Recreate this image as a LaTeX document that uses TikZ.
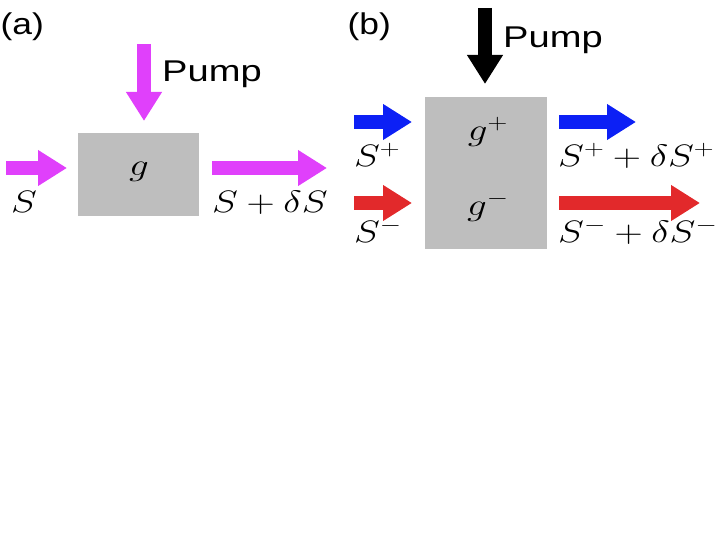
\documentclass[tikz,border=0pt]{standalone}
\usepackage{fix-cm}
\usepackage{fontspec}
\usepackage{graphicx}
\usetikzlibrary{arrows.meta}
\newfontfamily\labfont{Liberation Sans}
\definecolor{pmag}{RGB}{224,64,251}
\definecolor{pblue}{RGB}{12,32,245}
\definecolor{pred}{RGB}{226,41,43}
\definecolor{boxgray}{RGB}{190,190,190}
\newcommand{\sanslab}[2]{\scalebox{#1}[1]{\labfont\fontsize{30}{36}\selectfont #2}}
\newcommand{\mathlab}[1]{\scalebox{1.26}[1]{\fontsize{31}{37}\selectfont $#1$}}
\tikzset{
  fat/.style={line width=14pt, -{Triangle[length=29pt,width=34pt]}},
  gbox/.style={fill=boxgray, draw=none, inner sep=0pt},
  lab/.style={inner sep=0pt, anchor=base west},
  clab/.style={inner sep=0pt}
}
\begin{document}
\begin{tikzpicture}[x=1pt,y=-1pt]
\useasboundingbox (0,0) rectangle (720,540);
% ---------- (a)
\node[lab] (la) at (0.5,35) {\sanslab{1.18}{(a)}};
\node[gbox, minimum width=121pt, minimum height=83pt] (boxa) at (138.5,174.5) {};
\node[clab] (ga) at (139,172) {\mathlab{g}};
\coordinate (apT) at (144,44);
\coordinate (apB) at (144,121);
\draw[fat, pmag] (apT) -- (apB);
\node[lab] (pumpa) at (162,82) {\sanslab{1.27}{Pump}};
\coordinate (ainL) at (6,168);
\coordinate (ainR) at (67,168);
\draw[fat, pmag] (ainL) -- (ainR);
\coordinate (aoutL) at (212,168);
\coordinate (aoutR) at (327,168);
\draw[fat, pmag] (aoutL) -- (aoutR);
\node[lab] (sa) at (11,212.5) {\mathlab{S}};
\node[lab] (sda) at (212,212.5) {\mathlab{S+\delta S}};
% ---------- (b)
\node[lab] (lb) at (347.5,35) {\sanslab{1.18}{(b)}};
\node[gbox, minimum width=122pt, minimum height=152pt] (boxb) at (486,173) {};
\node[clab] (gp) at (488,132) {\mathlab{g^+}};
\node[clab] (gm) at (488,207) {\mathlab{g^-}};
\coordinate (bpT) at (485,8);
\coordinate (bpB) at (485,84);
\draw[fat, black] (bpT) -- (bpB);
\node[lab] (pumpb) at (503,47.5) {\sanslab{1.27}{Pump}};
\coordinate (binpL) at (354,122);
\coordinate (binpR) at (412,122);
\draw[fat, pblue] (binpL) -- (binpR);
\coordinate (binmL) at (354,203);
\coordinate (binmR) at (412,203);
\draw[fat, pred] (binmL) -- (binmR);
\coordinate (boutpL) at (559,122);
\coordinate (boutpR) at (636,122);
\draw[fat, pblue] (boutpL) -- (boutpR);
\coordinate (boutmL) at (559,203);
\coordinate (boutmR) at (700,203);
\draw[fat, pred] (boutmL) -- (boutmR);
\node[lab] (sp) at (354,167) {\mathlab{S^+}};
\node[lab] (sm) at (354,242.5) {\mathlab{S^-}};
\node[lab] (sdp) at (558,167) {\mathlab{S^+ + \delta S^+}};
\node[lab] (sdm) at (558,242.5) {\mathlab{S^- + \delta S^-}};
\end{tikzpicture}
\end{document}
